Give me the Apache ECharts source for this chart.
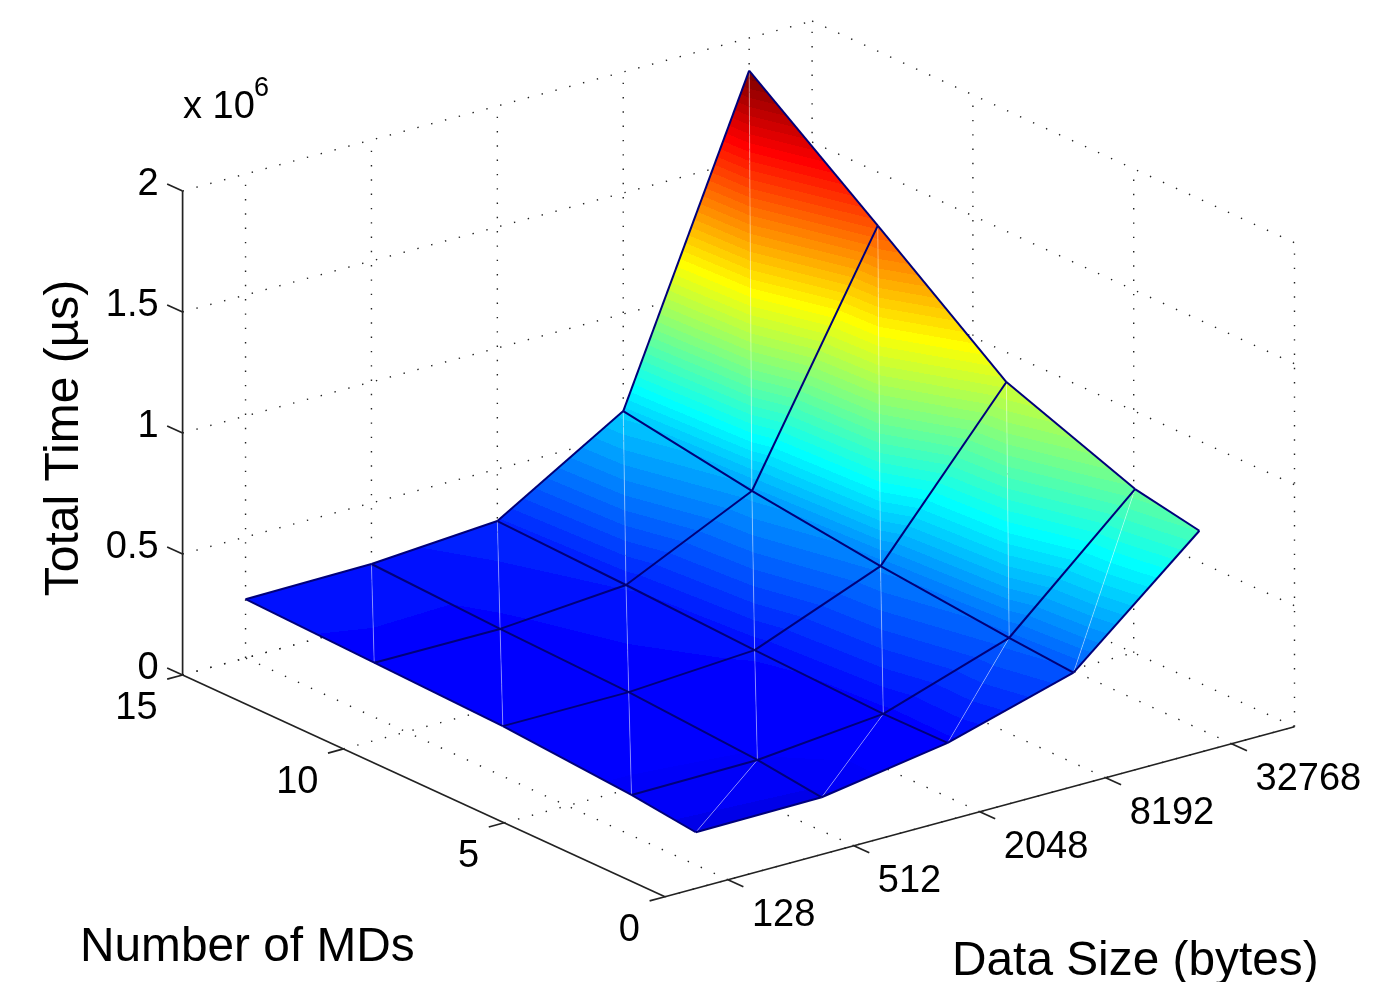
<!DOCTYPE html>
<html><head><meta charset="utf-8">
<style>html,body{margin:0;padding:0;background:#fff}#c{width:1390px;height:982px}</style>
<script src="https://cdn.jsdelivr.net/npm/echarts@6/dist/echarts.min.js"></script>
</head><body><div id="c"></div>
<script>
// ---- data (total time in units of 10^6 µs) ----
const dataSizes = [128, 512, 2048, 8192, 32768];
const mdCounts = [1, 3, 7, 11, 15];
const timeMD1  = [0.135, 0.139, 0.223, 0.373, 0.819];
const timeMD3  = [0.167, 0.171, 0.221, 0.395, 0.869];
const timeMD7  = [0.207, 0.207, 0.240, 0.447, 1.067];
const timeMD11 = [0.225, 0.224, 0.265, 0.513, 1.469];
const timeMD15 = [0.243, 0.248, 0.285, 0.599, 1.865];
const timeRows = [timeMD1, timeMD3, timeMD7, timeMD11, timeMD15];
const sizeTicks = [128, 512, 2048, 8192, 32768];
const mdTicks = [0, 5, 10, 15];
const timeTicks = [0, 0.5, 1, 1.5, 2];
const timeTickLabels = ['0', '0.5', '1', '1.5', '2'];
const titleSize = 'Data Size (bytes)';
const titleMD = 'Number of MDs';
const titleTime = 'Total Time (µs)';

// ---- axis box of the 3-D plot and its orthographic projection ----
const L0 = 6, L1 = 16, M0 = 0, M1 = 15, Z0 = 0, Z1 = 2;
const proj = (size, md, t) => {
  const l = size - L0;
  return [665 + 62.95 * l - 32.16 * md, 896.7 - 17 * l - 14.78 * md - 242 * t];
};
const lg = Math.log2;
const FONT = '"Liberation Sans", Arial, Helvetica, sans-serif';
const INK = '#000';
const ZMAX = Math.max(...timeRows.flat());

// jet(64) as hard colour bands
function jet(t) {
  const c = v => Math.round(255 * Math.max(0, Math.min(1, v)));
  return 'rgb(' + c(Math.min(4 * t - 1.5, 4.5 - 4 * t)) + ',' + c(Math.min(4 * t - 0.5, 3.5 - 4 * t)) + ',' + c(Math.min(4 * t + 0.6, 2.5 - 4 * t)) + ')';
}
const stops = [];
for (let i = 0; i < 64; i++) {
  const col = jet((i + 1) / 64);
  stops.push({ offset: i / 64, color: col }, { offset: (i + 1) / 64, color: col });
}

// ---- marks derived from the arrays ----
const tris = [], mesh = [], seams = [], walls = [];
const vtx = (i, j) => [lg(dataSizes[i]), mdCounts[j], timeRows[j][i]];
for (let i = 0; i < dataSizes.length - 1; i++) for (let j = 0; j < mdCounts.length - 1; j++) {
  const A = vtx(i, j), B = vtx(i + 1, j), C = vtx(i + 1, j + 1), D = vtx(i, j + 1);
  tris.push([...A, ...B, ...C], [...A, ...C, ...D]);
  seams.push([...A, ...C]);
}
for (let j = 0; j < mdCounts.length; j++) for (let i = 0; i < dataSizes.length - 1; i++) {
  mesh.push([...vtx(i, j), ...vtx(i + 1, j)]);
}
for (let i = 0; i < dataSizes.length; i++) for (let j = 0; j < mdCounts.length - 1; j++) {
  mesh.push([...vtx(i, j), ...vtx(i, j + 1)]);
}
sizeTicks.forEach(s => {
  const l = lg(s);
  walls.push([l, M0, 0, l, M1, 0], [l, M1, Z0, l, M1, Z1]);
});
mdTicks.forEach(m => {
  walls.push([L0, m, 0, L1, m, 0], [L1, m, Z0, L1, m, Z1]);
});
timeTicks.forEach(t => {
  walls.push([L0, M1, t, L1, M1, t], [L1, M1, t, L1, M0, t]);
});
const axes = [
  [L0, M0, 0, L1, M0, 0], [L0, M0, 0, L0, M1, 0], [L0, M1, Z0, L0, M1, Z1]
];
const tickDU = 0.245, tickDM = 0.48;
sizeTicks.forEach(s => axes.push([lg(s), M0, 0, lg(s), -tickDM, 0]));
mdTicks.forEach(m => axes.push([L0, m, 0, L0 - tickDU, m, 0]));
timeTicks.forEach(t => axes.push([L0, M1, t, L0, M1 + tickDM, t]));

const labels = [];
sizeTicks.forEach(s => labels.push({ p: [lg(s), M0, 0], dx: 24, dy: 36, text: String(s), align: 'left' }));
mdTicks.forEach(m => labels.push({ p: [L0, m, 0], dx: -25, dy: 34, text: String(m), align: 'right' }));
timeTicks.forEach((t, i) => labels.push({ p: [L0, M1, t], dx: -24, dy: -6, text: timeTickLabels[i], align: 'right' }));

function line(api, color, width, dash, opacity) {
  const a = api.coord(proj(api.value(0), api.value(1), api.value(2)));
  const b = api.coord(proj(api.value(3), api.value(4), api.value(5)));
  return { type: 'line', shape: { x1: a[0], y1: a[1], x2: b[0], y2: b[1] },
    style: { stroke: color, lineWidth: width, lineDash: dash || null, fill: null, opacity: opacity == null ? 1 : opacity } };
}
function triangle(params, api) {
  const v = [0, 3, 6].map(k => api.value(k + 2));
  const P = [0, 3, 6].map(k => api.coord(proj(api.value(k), api.value(k + 1), api.value(k + 2))));
  const d1 = [P[1][0] - P[0][0], P[1][1] - P[0][1]], d2 = [P[2][0] - P[0][0], P[2][1] - P[0][1]];
  const dv1 = v[1] - v[0], dv2 = v[2] - v[0];
  const det = d1[0] * d2[1] - d1[1] * d2[0];
  const gx = (dv1 * d2[1] - dv2 * d1[1]) / det, gy = (d1[0] * dv2 - d2[0] * dv1) / det;
  const n = gx * gx + gy * gy;
  const sx = P[0][0] - v[0] * gx / n, sy = P[0][1] - v[0] * gy / n;
  const ex = P[0][0] + (ZMAX - v[0]) * gx / n, ey = P[0][1] + (ZMAX - v[0]) * gy / n;
  return { type: 'polygon', shape: { points: P },
    style: { fill: new echarts.graphic.LinearGradient(sx, sy, ex, ey, stops, true) } };
}
function label(params, api) {
  const d = labels[params.dataIndex];
  const c = api.coord(proj(d.p[0], d.p[1], d.p[2]));
  return { type: 'text', x: c[0] + d.dx, y: c[1] + d.dy,
    style: { text: d.text, fill: INK, font: '38px ' + FONT, textAlign: d.align, textVerticalAlign: 'middle' } };
}
const base = { type: 'custom', coordinateSystem: 'cartesian2d', silent: true, animation: false, clip: false };
const chart = echarts.init(document.getElementById('c'), null, { renderer: 'canvas' });
chart.setOption({
  animation: false,
  backgroundColor: '#fff',
  grid: { left: 0, right: 0, top: 0, bottom: 0 },
  xAxis: { type: 'value', min: 0, max: 1390, show: false },
  yAxis: { type: 'value', min: 0, max: 982, inverse: true, show: false },
  graphic: [
    { type: 'text', x: 80, y: 948, silent: true, style: { text: titleMD, fill: INK, font: '47.8px ' + FONT, textAlign: 'left', textVerticalAlign: 'middle' } },
    { type: 'text', x: 952, y: 962, silent: true, style: { text: titleSize, fill: INK, font: '47.8px ' + FONT, textAlign: 'left', textVerticalAlign: 'middle' } },
    { type: 'text', x: 65, y: 438, rotation: Math.PI / 2, silent: true, style: { text: titleTime, fill: INK, font: '48px ' + FONT, textAlign: 'center', textVerticalAlign: 'middle' } },
    { type: 'text', x: 183, y: 108, silent: true, style: { text: 'x 10', fill: INK, font: '38px ' + FONT, textAlign: 'left', textVerticalAlign: 'middle' } },
    { type: 'text', x: 254, y: 89, silent: true, style: { text: '6', fill: INK, font: '27px ' + FONT, textAlign: 'left', textVerticalAlign: 'middle' } }
  ],
  series: [
    { ...base, name: 'walls', z: 1, data: walls, renderItem: (p, api) => line(api, '#222', 1.4, [1.4, 12.9]) },
    { ...base, name: 'axes', z: 2, data: axes, renderItem: (p, api) => line(api, '#222', 1.7) },
    { ...base, name: 'tick labels', z: 3, data: labels.map((d, i) => [i]), renderItem: label },
    { ...base, name: 'surface', z: 4, data: tris, renderItem: triangle },
    { ...base, name: 'seams', z: 5, data: seams, renderItem: (p, api) => line(api, '#fff', 1, null, 0.38) },
    { ...base, name: 'mesh', z: 6, data: mesh, renderItem: (p, api) => line(api, '#00007a', 2) }
  ]
});
</script></body></html>
